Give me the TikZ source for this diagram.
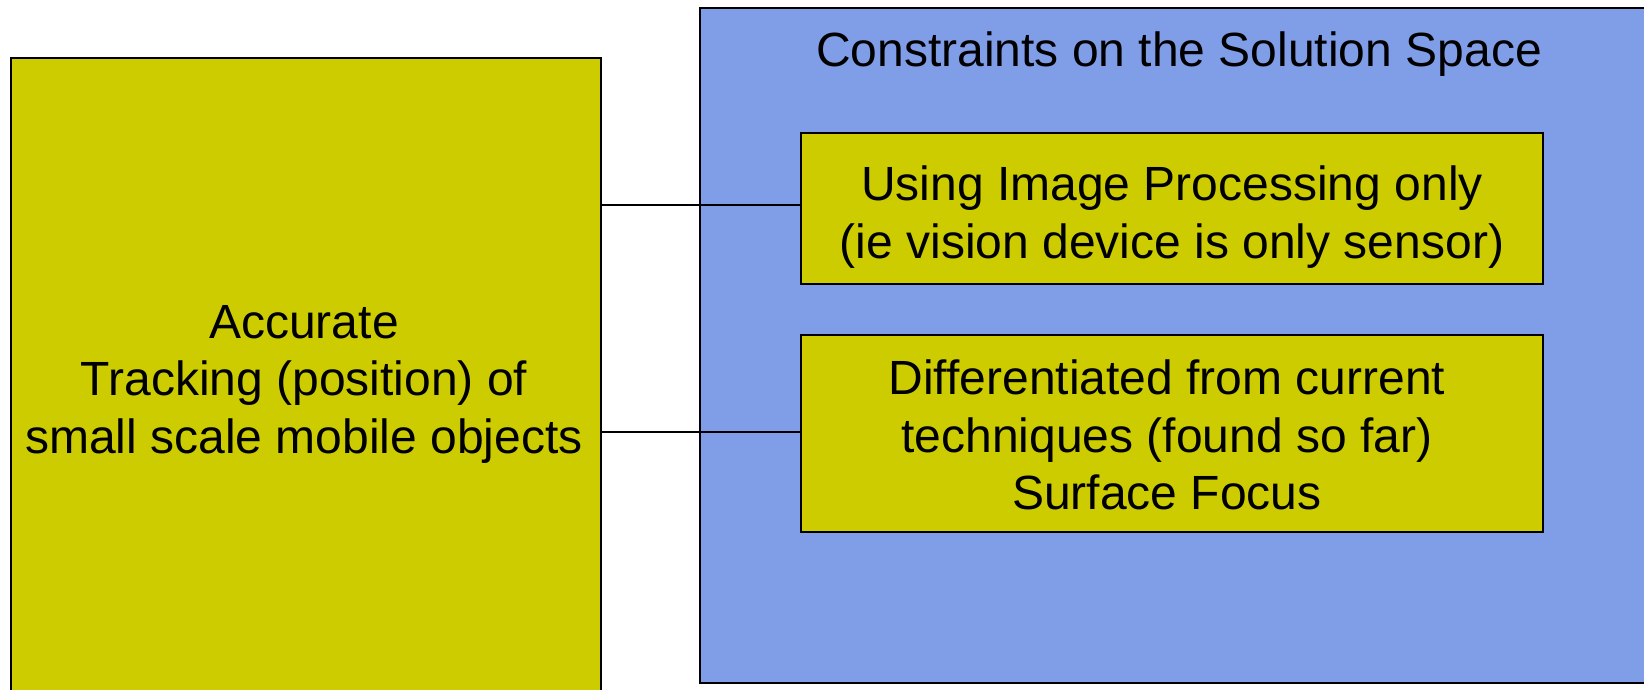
\documentclass[tikz,border=0pt]{standalone}
\usepackage{fontspec}
\setmainfont{Liberation Sans}
\definecolor{boxyellow}{RGB}{204,204,0}
\definecolor{areablue}{RGB}{128,157,232}
\begin{document}
\begin{tikzpicture}[x=1bp,y=-1bp,
  panel/.style={draw=black,line width=1.3bp,rectangle,inner sep=0pt,outer sep=0pt,anchor=north west},
  yellowbox/.style={panel,fill=boxyellow},
  bluearea/.style={panel,fill=areablue},
  caption/.style={inner sep=0pt,align=center,font=\fontsize{48bp}{57.5bp}\selectfont},
  link/.style={draw=black,line width=1.3bp}]
\useasboundingbox (0,0) rectangle (1644,690);
\clip (0,0) rectangle (1644,690);

% left: the tracking goal
\node[yellowbox,minimum width=590bp,minimum height=660bp] (goal) at (11,58) {};
\node[caption] (goaltext) at (304,384) {Accurate\\Tracking (position) of\\small scale mobile objects};

% right: the constraint area with its two items
\node[bluearea,minimum width=960bp,minimum height=675bp] (space) at (700,8) {};
\node[caption] (spacetitle) at (1179,54) {Constraints on the Solution Space};

\node[yellowbox,minimum width=742bp,minimum height=151bp] (imgproc) at (801,133) {};
\node[caption] (imgproctext) at (1172,217) {Using Image Processing only\\(ie vision device is only sensor)};

\node[yellowbox,minimum width=742bp,minimum height=197bp] (diff) at (801,335) {};
\node[caption] (difftext) at (1167,435) {Differentiated from current\\techniques (found so far)\\Surface Focus};

% links from the goal to each constraint
\coordinate (imgprocin) at ([yshift=3.5bp]imgproc.west);
\coordinate (diffin) at ([yshift=1.5bp]diff.west);
\draw[link] (goal.east |- imgprocin) -- (imgprocin);
\draw[link] (goal.east |- diffin) -- (diffin);
\end{tikzpicture}
\end{document}
